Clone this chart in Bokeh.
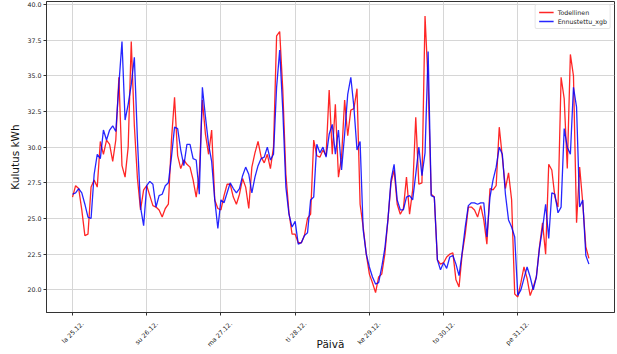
import math
from bokeh.plotting import figure
from bokeh.models import (FixedTicker, NumeralTickFormatter, Range1d, Legend, LegendItem,
                          LinearAxis)
from bokeh.embed import file_html
from bokeh.resources import INLINE

# Hourly data, 25.12. 00:00 ... 31.12. 23:00
todellinen = [
    # 25.12.
    26.5, 27.3, 27.1, 25.6, 23.8, 23.9, 27.2, 27.7, 27.2, 30.4, 29.5, 30.5,
    30.2, 29.0, 30.5, 34.9, 28.7, 27.9, 30.0, 37.4, 31.5, 27.8, 25.6, 27.0,
    # 26.12.
    27.3, 26.6, 25.9, 25.8, 25.6, 25.1, 25.7, 26.0, 30.5, 33.5, 29.4, 28.5,
    29.1, 28.8, 28.6, 27.7, 26.5, 28.1, 33.3, 30.9, 29.5, 31.2, 26.3, 25.7,
    # 27.12.
    25.6, 26.6, 27.4, 27.4, 26.5, 26.0, 26.7, 27.8, 27.2, 25.7, 28.6, 29.6,
    30.4, 29.3, 28.9, 29.5, 28.5, 30.0, 37.8, 38.1, 34.0, 28.1, 25.4, 23.9,
    # 28.12.
    23.9, 23.3, 23.3, 23.8, 25.0, 25.3, 30.5, 29.4, 29.3, 29.8, 29.4, 34.0,
    29.5, 33.0, 27.9, 29.3, 33.3, 30.8, 32.6, 32.7, 34.1, 26.0, 24.4, 22.5,
    # 29.12.
    21.1, 20.5, 19.8, 20.9, 21.1, 22.5, 24.9, 27.5, 28.4, 26.0, 25.3, 25.7,
    27.9, 25.3, 27.0, 32.1, 27.4, 27.5, 39.2, 34.5, 26.7, 26.5, 22.1, 21.8,
    # 30.12.
    21.9, 22.3, 22.5, 22.6, 20.7, 20.2, 22.5, 23.9, 25.8, 25.8, 25.6, 25.1,
    25.9, 24.9, 23.2, 27.1, 27.0, 27.3, 31.4, 29.3, 27.1, 28.2, 26.3, 19.7,
    # 31.12.
    19.5, 20.5, 21.6, 20.8, 19.6, 20.2, 20.9, 23.0, 24.7, 22.5, 28.8, 28.4,
    26.5, 25.8, 34.9, 33.4, 28.5, 36.5, 35.0, 24.7, 28.6, 26.1, 23.0, 22.2,
]

ennustettu_xgb = [
    # 25.12.
    26.7, 26.8, 27.1, 26.8, 26.0, 25.1, 25.0, 28.1, 29.5, 29.2, 31.2, 30.5,
    31.2, 31.5, 31.1, 34.4, 37.4, 31.9, 33.0, 34.4, 36.3, 30.5, 25.8, 24.5,
    # 26.12.
    27.3, 27.6, 27.4, 25.8, 26.6, 26.7, 27.3, 27.5, 29.3, 31.4, 31.3, 29.8,
    28.7, 30.2, 30.2, 29.2, 29.1, 26.7, 34.2, 32.1, 30.2, 29.0, 26.3, 24.3,
    # 27.12.
    26.3, 26.1, 26.8, 27.5, 27.1, 26.8, 27.1, 28.0, 28.6, 28.1, 26.8, 27.9,
    28.7, 29.2, 29.3, 30.0, 29.1, 29.5, 34.2, 36.8, 32.6, 27.2, 25.3, 24.4,
    # 28.12.
    24.8, 23.2, 23.3, 23.8, 24.0, 26.3, 26.5, 30.2, 29.6, 30.0, 29.3, 30.9,
    31.6, 29.5, 31.2, 28.4, 30.9, 33.7, 34.9, 32.8, 29.8, 30.4, 24.2, 22.5,
    # 29.12.
    21.6, 20.9, 20.4, 20.5, 21.6, 22.9, 24.9, 27.7, 28.8, 26.3, 25.6, 25.6,
    26.5, 26.6, 26.3, 28.1, 30.0, 28.0, 29.6, 36.7, 26.6, 26.5, 22.1, 21.4,
    # 30.12.
    21.9, 21.5, 22.3, 22.4, 21.8, 21.0, 22.6, 24.4, 25.9, 26.1, 26.1, 26.0,
    26.1, 26.1, 23.7, 26.5, 27.7, 28.6, 30.0, 29.5, 26.7, 24.9, 24.4, 23.7,
    # 31.12.
    19.6, 20.0, 20.8, 21.6, 20.9, 20.0, 20.9, 22.9, 24.3, 26.0, 23.6, 26.8,
    26.7, 25.4, 25.8, 31.3, 30.0, 29.5, 34.2, 32.8, 25.8, 26.3, 22.4, 21.8,
]

hours = list(range(len(todellinen)))

tick_positions = [0, 24, 48, 72, 96, 120, 144]
tick_labels = ["la 25.12.", "su 26.12.", "ma 27.12.", "ti 28.12.",
               "ke 29.12.", "to 30.12.", "pe 31.12."]
y_ticks = [20.0, 22.5, 25.0, 27.5, 30.0, 32.5, 35.0, 37.5, 40.0]

FONT = "DejaVu Sans"
LABEL_SHIFT = 3.2  # hours: rotated labels are right-anchored by Bokeh; shift to centre them on the ticks

p = figure(width=617, height=354, output_backend="svg", toolbar_location=None,
           x_range=Range1d(-8.41, 175.27), y_range=Range1d(18.41, 40.21),
           min_border_left=46, min_border_right=3, min_border_top=1,
           min_border_bottom=42)

p.background_fill_color = "white"
p.border_fill_color = "white"
p.outline_line_color = "#333333"
p.outline_line_width = 1

r1 = p.line(hours, todellinen, line_color="red", line_width=1.3, line_alpha=0.85)
r2 = p.line(hours, ennustettu_xgb, line_color="blue", line_width=1.3, line_alpha=0.85)

# main x axis: tick marks only (labels not drawn)
p.xaxis.ticker = FixedTicker(ticks=tick_positions)
p.xaxis.major_label_text_color = None
p.xaxis.major_label_text_font_size = "1px"
p.xaxis.major_label_standoff = 0
p.xaxis.axis_line_color = "#333333"
p.xaxis.major_tick_line_color = "#333333"
p.xaxis.major_tick_out = 3
p.xaxis.major_tick_in = 0
p.xaxis.minor_tick_line_color = None

# label axis: rotated day labels + axis title
shifted = [t + LABEL_SHIFT for t in tick_positions]
lab_axis = LinearAxis(ticker=FixedTicker(ticks=shifted),
                      major_label_overrides={s: l for s, l in zip(shifted, tick_labels)},
                      major_label_orientation=math.pi / 4,
                      major_label_text_font=FONT, major_label_text_font_size="6.3px",
                      major_label_text_color="#222222", major_label_standoff=1,
                      major_tick_line_color=None, minor_tick_line_color=None,
                      axis_line_color=None,
                      axis_label="Päivä", axis_label_text_font=FONT,
                      axis_label_text_font_size="10.5px", axis_label_text_font_style="normal",
                      axis_label_text_color="#111111", axis_label_standoff=-15)
p.add_layout(lab_axis, "below")

p.yaxis.ticker = FixedTicker(ticks=y_ticks)
p.yaxis.formatter = NumeralTickFormatter(format="0.0")
ax = p.yaxis[0]
ax.major_label_text_font = FONT
ax.major_label_text_font_size = "6.3px"
ax.major_label_text_color = "#222222"
ax.axis_label = "Kulutus kWh"
ax.axis_label_text_font = FONT
ax.axis_label_text_font_size = "10.5px"
ax.axis_label_text_font_style = "normal"
ax.axis_label_text_color = "#111111"
ax.axis_line_color = "#333333"
ax.major_tick_line_color = "#333333"
ax.major_tick_out = 3
ax.major_tick_in = 0
ax.minor_tick_line_color = None
ax.major_label_standoff = 2
ax.axis_label_standoff = 3

p.xgrid.ticker = FixedTicker(ticks=tick_positions)
p.xgrid.grid_line_color = "#d6d6d6"
p.ygrid.grid_line_color = "#d6d6d6"
p.xgrid.grid_line_width = 1
p.ygrid.grid_line_width = 1

legend = Legend(items=[LegendItem(label="Todellinen", renderers=[r1]),
                       LegendItem(label="Ennustettu_xgb", renderers=[r2])],
                location="top_right")
legend.label_text_font = FONT
legend.label_text_font_size = "6.3px"
legend.label_text_color = "#222222"
legend.glyph_width = 15
legend.glyph_height = 8
legend.label_height = 8
legend.label_standoff = 4
legend.spacing = 1
legend.padding = 3
legend.margin = 3
legend.border_line_color = "#cccccc"
legend.border_radius = 2
legend.background_fill_alpha = 0.8
p.add_layout(legend)

open("out.html", "w").write(file_html(p, INLINE))
